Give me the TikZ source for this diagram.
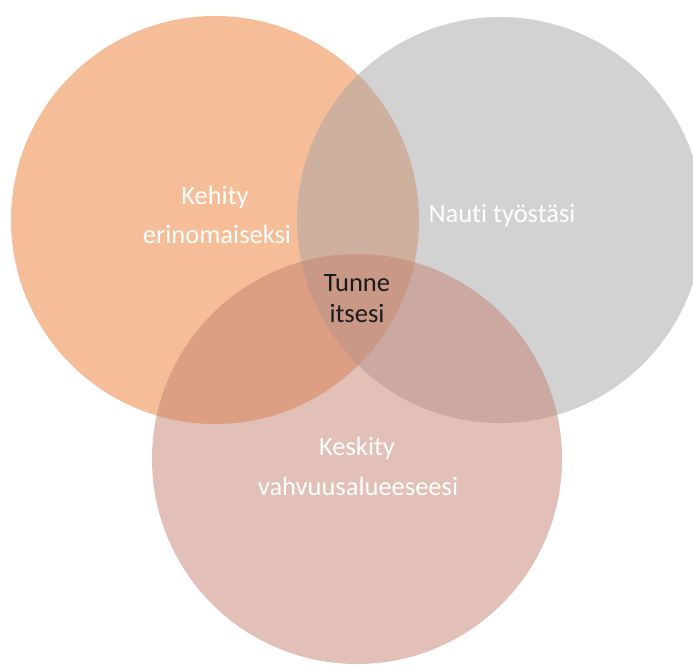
\documentclass[tikz,border=0pt]{standalone}
\usepackage{fontspec}
\setmainfont{Carlito}[RawFeature=-liga]
\definecolor{corange}{HTML}{ED7D31}
\definecolor{cgray}{HTML}{A5A5A5}
\definecolor{cpink}{HTML}{C5816F}
\definecolor{ctext}{HTML}{1A1A1A}
\tikzset{
  venn/.style={fill opacity=0.5, draw=none},
  lbl/.style={anchor=base, inner sep=0pt, font=\fontsize{26.5}{30}\selectfont, text=white},
  midlbl/.style={lbl, text=ctext}
}
\begin{document}
\begin{tikzpicture}[x=1pt,y=-1pt]
\useasboundingbox (0,0) rectangle (693,665);
\begin{scope}
\clip (0,0) rectangle (693,665);
\fill[venn, corange] (215,220) circle[radius=204];
\fill[venn, cgray] (500,220) circle[radius=203];
\fill[venn, cpink] (357,459) circle[radius=205];
\end{scope}
\node[lbl] (k1) at (215,204) {Kehity};
\node[lbl] (k2) at (217,243) {erinomaiseksi};
\node[lbl] (n1) at (502,222) {Nauti työstäsi};
\node[midlbl] (t1) at (357,291) {Tunne};
\node[midlbl] (t2) at (357,322) {itsesi};
\node[lbl] (s1) at (357,455) {Keskity};
\node[lbl] (s2) at (358,495) {vahvuusalueeseesi};
\end{tikzpicture}
\end{document}
